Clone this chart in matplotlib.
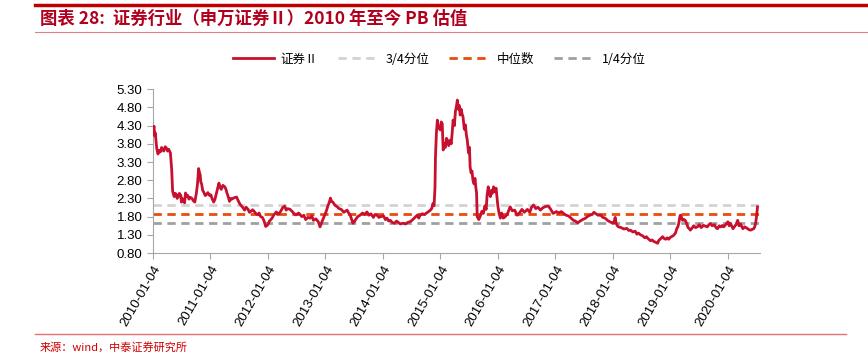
import numpy as np
import pandas as pd
import matplotlib
matplotlib.use("Agg")
from matplotlib import pyplot as plt
from matplotlib.lines import Line2D

plt.rcParams['font.family'] = ['Liberation Sans', 'Noto Sans CJK SC', 'DejaVu Sans']

# PB of 证券Ⅱ
dates = [
    '2010-01-04', '2010-01-08', '2010-01-12', '2010-01-16', '2010-01-20', '2010-01-29',
    '2010-02-06', '2010-02-15', '2010-02-22', '2010-03-01', '2010-03-08', '2010-03-15',
    '2010-03-24', '2010-04-01', '2010-04-08', '2010-04-15', '2010-04-26', '2010-05-04',
    '2010-05-10', '2010-05-20', '2010-05-26', '2010-06-01', '2010-06-08', '2010-06-15',
    '2010-06-22', '2010-07-01', '2010-07-05', '2010-07-10', '2010-07-15', '2010-07-25',
    '2010-07-31', '2010-08-08', '2010-08-15', '2010-08-22', '2010-08-30', '2010-09-10',
    '2010-09-18', '2010-09-28', '2010-10-08', '2010-10-15', '2010-10-22', '2010-10-27',
    '2010-11-01', '2010-11-05', '2010-11-10', '2010-11-17', '2010-11-24', '2010-12-03',
    '2010-12-10', '2010-12-20', '2010-12-31', '2011-01-08', '2011-01-15', '2011-01-26',
    '2011-02-03', '2011-02-10', '2011-02-20', '2011-02-28', '2011-03-08', '2011-03-15',
    '2011-03-25', '2011-04-06', '2011-04-13', '2011-04-20', '2011-04-28', '2011-05-06',
    '2011-05-13', '2011-05-20', '2011-06-05', '2011-06-20', '2011-06-28', '2011-07-05',
    '2011-07-12', '2011-07-20', '2011-07-30', '2011-08-10', '2011-08-20', '2011-09-01',
    '2011-09-10', '2011-09-20', '2011-10-01', '2011-10-12', '2011-10-22', '2011-11-01',
    '2011-11-10', '2011-11-20', '2011-12-01', '2011-12-10', '2011-12-16', '2011-12-22',
    '2012-01-05', '2012-01-15', '2012-01-30', '2012-02-12', '2012-02-28', '2012-03-06',
    '2012-03-15', '2012-03-28', '2012-04-08', '2012-04-20', '2012-04-30', '2012-05-10',
    '2012-05-25', '2012-06-10', '2012-06-20', '2012-07-01', '2012-07-18', '2012-08-08',
    '2012-08-20', '2012-09-01', '2012-09-15', '2012-09-28', '2012-10-10', '2012-10-20',
    '2012-11-05', '2012-11-20', '2012-12-01', '2012-12-08', '2012-12-15', '2012-12-25',
    '2013-01-04', '2013-01-12', '2013-01-20', '2013-01-28', '2013-02-05', '2013-02-12',
    '2013-02-20', '2013-03-05', '2013-03-20', '2013-04-01', '2013-04-15', '2013-05-01',
    '2013-05-22', '2013-06-01', '2013-06-10', '2013-06-20', '2013-06-28', '2013-07-06',
    '2013-07-15', '2013-07-28', '2013-08-12', '2013-08-28', '2013-09-10', '2013-09-25',
    '2013-10-08', '2013-10-20', '2013-11-05', '2013-11-15', '2013-11-28', '2013-12-10',
    '2013-12-20', '2014-01-08', '2014-01-20', '2014-01-30', '2014-02-10', '2014-02-20',
    '2014-03-05', '2014-03-20', '2014-04-01', '2014-04-10', '2014-04-25', '2014-05-12',
    '2014-05-28', '2014-06-10', '2014-06-25', '2014-07-08', '2014-07-20', '2014-08-01',
    '2014-08-10', '2014-08-20', '2014-08-28', '2014-09-12', '2014-09-25', '2014-10-12',
    '2014-10-28', '2014-11-10', '2014-11-18', '2014-11-25', '2014-12-01', '2014-12-04',
    '2014-12-10', '2014-12-16', '2014-12-22', '2015-01-04', '2015-01-10', '2015-01-16',
    '2015-01-22', '2015-01-28', '2015-02-05', '2015-02-12', '2015-02-18', '2015-02-26',
    '2015-03-08', '2015-03-14', '2015-03-20', '2015-03-26', '2015-04-03', '2015-04-10',
    '2015-04-16', '2015-04-22', '2015-04-28', '2015-05-04', '2015-05-10', '2015-05-16',
    '2015-05-22', '2015-05-28', '2015-06-05', '2015-06-12', '2015-06-18', '2015-06-24',
    '2015-07-02', '2015-07-08', '2015-07-12', '2015-07-18', '2015-07-24', '2015-07-30',
    '2015-08-06', '2015-08-12', '2015-08-18', '2015-08-22', '2015-08-26', '2015-09-05',
    '2015-09-15', '2015-09-25', '2015-10-04', '2015-10-14', '2015-10-22', '2015-10-28',
    '2015-11-04', '2015-11-10', '2015-11-18', '2015-11-24', '2015-11-30', '2015-12-08',
    '2015-12-16', '2015-12-24', '2016-01-04', '2016-01-12', '2016-01-20', '2016-01-28',
    '2016-02-08', '2016-02-20', '2016-03-05', '2016-03-22', '2016-04-05', '2016-04-20',
    '2016-05-06', '2016-05-20', '2016-06-05', '2016-06-20', '2016-07-10', '2016-07-25',
    '2016-08-05', '2016-08-18', '2016-09-01', '2016-09-15', '2016-09-30', '2016-10-15',
    '2016-11-01', '2016-11-20', '2016-12-05', '2016-12-20', '2017-01-10', '2017-01-25',
    '2017-02-10', '2017-02-24', '2017-03-12', '2017-03-28', '2017-04-12', '2017-04-28',
    '2017-05-10', '2017-05-25', '2017-06-10', '2017-06-25', '2017-07-10', '2017-07-25',
    '2017-08-10', '2017-08-25', '2017-09-05', '2017-09-15', '2017-10-01', '2017-10-18',
    '2017-11-01', '2017-11-15', '2017-11-30', '2017-12-15', '2018-01-03', '2018-01-10',
    '2018-01-18', '2018-01-24', '2018-02-01', '2018-02-08', '2018-02-25', '2018-03-15',
    '2018-04-01', '2018-04-15', '2018-04-25', '2018-05-10', '2018-05-25', '2018-06-05',
    '2018-06-15', '2018-06-28', '2018-07-10', '2018-07-25', '2018-08-05', '2018-08-12',
    '2018-08-20', '2018-08-30', '2018-09-10', '2018-09-20', '2018-10-01', '2018-10-15',
    '2018-10-22', '2018-10-30', '2018-11-08', '2018-11-15', '2018-11-25', '2018-12-05',
    '2018-12-15', '2018-12-24', '2019-01-05', '2019-01-15', '2019-01-25', '2019-02-05',
    '2019-02-14', '2019-02-20', '2019-02-26', '2019-03-04', '2019-03-08', '2019-03-14',
    '2019-03-22', '2019-04-01', '2019-04-08', '2019-04-16', '2019-04-26', '2019-05-06',
    '2019-05-10', '2019-05-20', '2019-06-01', '2019-06-12', '2019-06-24', '2019-07-06',
    '2019-07-18', '2019-08-02', '2019-08-14', '2019-08-26', '2019-09-05', '2019-09-16',
    '2019-09-26', '2019-10-10', '2019-10-20', '2019-10-30', '2019-11-10', '2019-11-20',
    '2019-11-30', '2019-12-08', '2019-12-16', '2019-12-24', '2020-01-04', '2020-01-12',
    '2020-01-20', '2020-02-05', '2020-02-14', '2020-02-24', '2020-03-06', '2020-03-14',
    '2020-03-24', '2020-04-08', '2020-04-20', '2020-05-05', '2020-05-18', '2020-05-28',
    '2020-06-05', '2020-06-16', '2020-06-22', '2020-06-28', '2020-07-03', '2020-07-10',
]
pb = [
    4.05, 4.22, 4.28, 4.02, 4.10, 3.68,
    3.52, 3.62, 3.58, 3.70, 3.64, 3.60,
    3.72, 3.68, 3.60, 3.65, 3.55, 3.10,
    2.50, 2.35, 2.44, 2.42, 2.30, 2.35,
    2.44, 2.38, 2.20, 2.30, 2.25, 2.18,
    2.45, 2.36, 2.38, 2.28, 2.33, 2.30,
    2.24, 2.20, 2.45, 2.70, 3.12, 3.02,
    2.95, 2.75, 2.70, 2.52, 2.47, 2.38,
    2.40, 2.46, 2.38, 2.40, 2.30, 2.20,
    2.28, 2.40, 2.56, 2.72, 2.60, 2.55,
    2.66, 2.62, 2.56, 2.45, 2.35, 2.22,
    2.30, 2.28, 2.32, 2.34, 2.26, 2.20,
    2.14, 2.10, 2.05, 1.98, 2.06, 2.00,
    1.92, 1.95, 1.99, 1.93, 1.88, 1.85,
    1.90, 1.80, 1.78, 1.70, 1.62, 1.53,
    1.58, 1.68, 1.75, 1.85, 1.93, 1.86,
    1.88, 1.96, 2.05, 2.09, 1.98, 2.02,
    2.00, 1.93, 1.88, 1.85, 1.90, 1.80,
    1.84, 1.72, 1.78, 1.76, 1.82, 1.70,
    1.74, 1.66, 1.52, 1.60, 1.68, 1.78,
    1.89, 1.98, 2.10, 2.18, 2.31, 2.22,
    2.20, 2.12, 2.07, 2.02, 2.00, 1.92,
    1.98, 1.90, 1.85, 1.72, 1.62, 1.66,
    1.72, 1.80, 1.84, 1.90, 1.86, 1.93,
    1.84, 1.88, 1.78, 1.86, 1.84, 1.78,
    1.80, 1.82, 1.72, 1.76, 1.68, 1.70,
    1.64, 1.62, 1.68, 1.65, 1.60, 1.62,
    1.60, 1.64, 1.66, 1.70, 1.75, 1.80,
    1.84, 1.76, 1.84, 1.88, 1.86, 1.91,
    1.96, 2.02, 2.16, 2.10, 2.60, 3.44,
    4.10, 4.45, 4.25, 4.18, 4.40, 4.35,
    3.63, 3.80, 3.70, 3.95, 3.90, 3.75,
    3.90, 3.80, 4.09, 4.45, 4.30, 4.70,
    4.82, 5.00, 4.75, 4.85, 4.59, 4.75,
    4.62, 4.54, 4.20, 4.32, 4.05, 3.90,
    3.55, 3.70, 3.17, 3.00, 3.05, 2.80,
    2.70, 2.85, 2.58, 2.45, 1.80, 1.72,
    1.82, 1.95, 1.89, 2.10, 2.00, 2.40,
    2.62, 2.45, 2.35, 2.52, 2.44, 2.62,
    2.48, 2.58, 2.10, 1.89, 1.76, 1.90,
    1.76, 1.80, 1.88, 2.07, 1.96, 1.98,
    1.84, 1.90, 2.00, 1.92, 2.00, 1.92,
    2.06, 2.12, 2.02, 2.06, 1.98, 2.04,
    2.08, 2.09, 2.00, 1.89, 1.94, 1.90,
    1.94, 1.89, 1.84, 1.82, 1.76, 1.70,
    1.68, 1.63, 1.68, 1.72, 1.75, 1.80,
    1.84, 1.86, 1.92, 1.89, 1.84, 1.84,
    1.78, 1.76, 1.70, 1.66, 1.62, 1.64,
    1.78, 1.62, 1.55, 1.52, 1.50, 1.46,
    1.48, 1.42, 1.43, 1.38, 1.40, 1.32,
    1.35, 1.30, 1.28, 1.22, 1.25, 1.21,
    1.18, 1.14, 1.16, 1.12, 1.10, 1.07,
    1.15, 1.18, 1.22, 1.25, 1.20, 1.18,
    1.22, 1.18, 1.24, 1.26, 1.29, 1.35,
    1.48, 1.52, 1.62, 1.78, 1.84, 1.80,
    1.70, 1.72, 1.70, 1.62, 1.50, 1.46,
    1.43, 1.48, 1.55, 1.50, 1.52, 1.58,
    1.50, 1.56, 1.54, 1.52, 1.58, 1.61,
    1.55, 1.58, 1.50, 1.47, 1.55, 1.52,
    1.56, 1.52, 1.56, 1.60, 1.66, 1.55,
    1.62, 1.47, 1.52, 1.58, 1.70, 1.55,
    1.60, 1.47, 1.52, 1.48, 1.44, 1.43,
    1.45, 1.47, 1.52, 1.62, 1.79, 2.07,
]
q75 = 2.12
median = 1.86
q25 = 1.62

tick_dates = ['%d-01-04' % y for y in range(2010, 2021)]

x = pd.to_datetime(dates)

fig = plt.figure(figsize=(8.68, 3.58), dpi=100)
ax = fig.add_axes([0.176, 0.293, 0.700, 0.458])

red = '#C8102E'
ax.axhline(q75, color='#D3D3D3', lw=2, ls=(0, (3, 2)), zorder=1)
ax.axhline(median, color='#E84C0E', lw=2, ls=(0, (3, 2)), zorder=1)
ax.axhline(q25, color='#A0A0A0', lw=2, ls=(0, (3, 2)), zorder=1)
ax.plot(x, pb, color=red, lw=2, zorder=3)

ax.set_ylim(0.8, 5.3)
ax.set_yticks(np.arange(0.8, 5.31, 0.5))
ax.yaxis.set_major_formatter(plt.FormatStrFormatter('%.2f'))
ax.set_xlim(pd.Timestamp('2010-01-04'), pd.Timestamp('2020-07-28'))
ax.set_xticks(pd.to_datetime(tick_dates))
ax.set_xticklabels(tick_dates, rotation=60, ha='right', rotation_mode='anchor')

for s in ['top', 'right']:
    ax.spines[s].set_visible(False)
for s in ['left', 'bottom']:
    ax.spines[s].set_color('#A6A6A6')
ax.tick_params(axis='both', colors='#A6A6A6', labelcolor='black', labelsize=9.5, length=4)

handles = [
    Line2D([], [], color=red, lw=2),
    Line2D([], [], color='#D3D3D3', lw=2, ls=(0, (3, 2))),
    Line2D([], [], color='#E84C0E', lw=2, ls=(0, (3, 2))),
    Line2D([], [], color='#A0A0A0', lw=2, ls=(0, (3, 2))),
]
labels = ['证券Ⅱ', '3/4分位', '中位数', '1/4分位']
fig.legend(handles, labels, loc='center', bbox_to_anchor=(0.506, 0.835), ncol=4,
           frameon=False, handlelength=3.3, handletextpad=0.5, columnspacing=1.6,
           prop={'family': ['Noto Sans CJK SC'], 'size': 9})

# header and footer
fig.add_artist(Line2D([0.04, 1.0], [0.985, 0.985], color='#C00000', lw=2.5))
fig.add_artist(Line2D([0.04, 1.0], [0.91, 0.91], color='#E08080', lw=0.8))
fig.text(0.046, 0.947, '图表 28:  证券行业（申万证券Ⅱ）2010 年至今 PB 估值', color='#B0001E',
         fontsize=12.5, fontweight='bold', va='center', family=['Noto Sans CJK SC'])
fig.add_artist(Line2D([0.04, 0.975], [0.067, 0.067], color='#E87070', lw=1))
fig.text(0.046, 0.03, '来源：wind，中泰证券研究所', color='#D00000', fontsize=8,
         va='center', family=['Noto Sans CJK SC'])

fig.savefig('out.png', dpi=100)
